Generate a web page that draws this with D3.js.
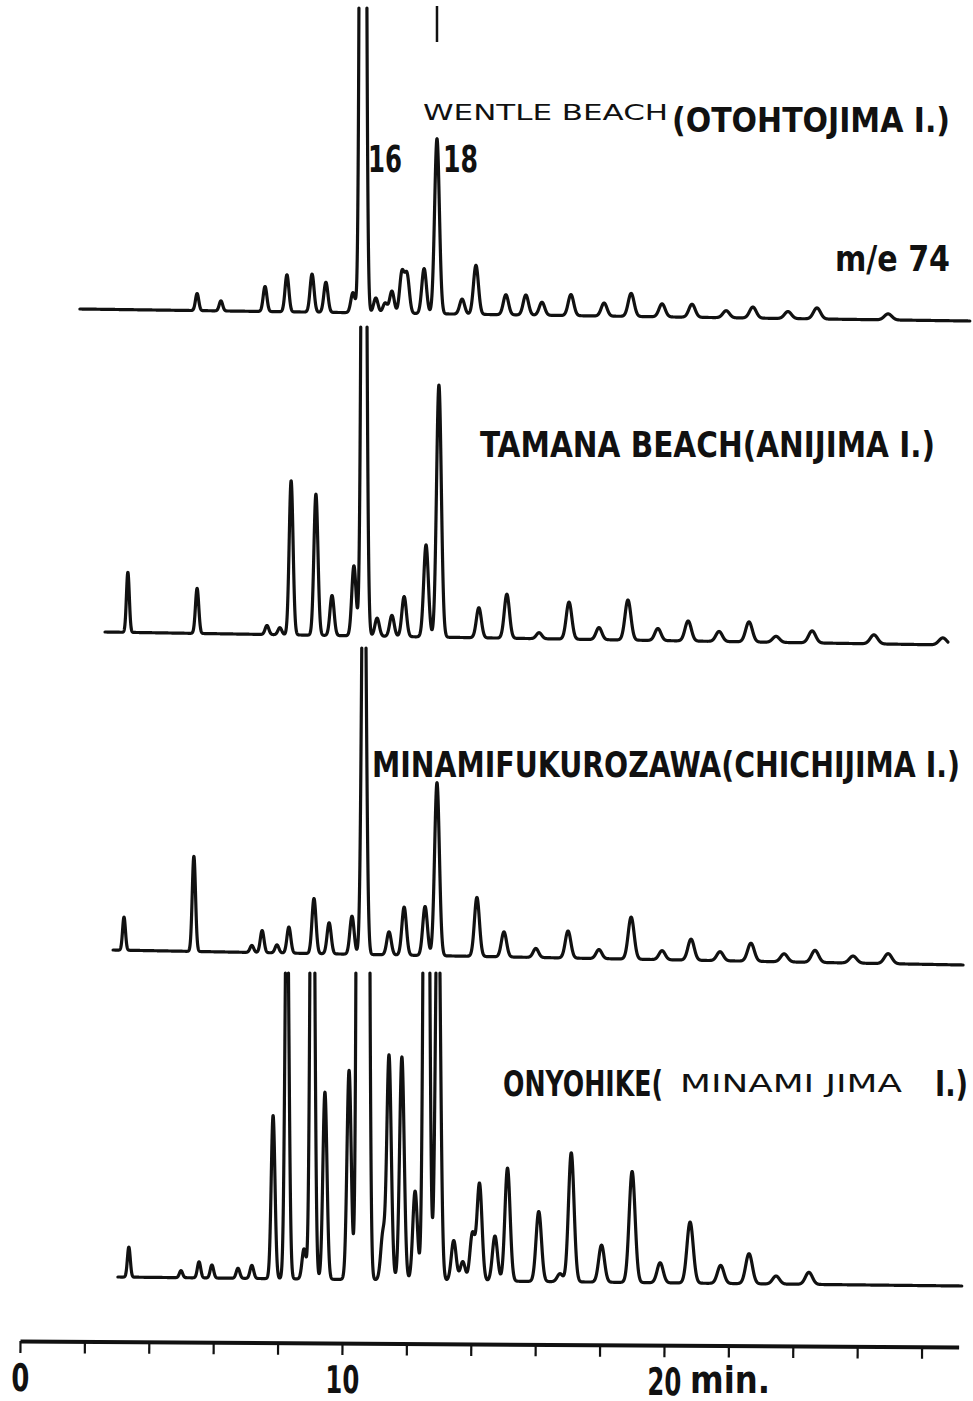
<!DOCTYPE html>
<html>
<head>
<meta charset="utf-8">
<title>m/e 74 mass chromatograms</title>
<script src="https://cdn.jsdelivr.net/npm/d3@7"></script>
<style>
  body { margin: 0; background: #fff; }
  text { font-family: "Liberation Sans Narrow", "DejaVu Sans Condensed", "Liberation Sans", sans-serif; fill: #111; }
  .thin { font-family: "DejaVu Sans", "Liberation Sans", sans-serif; font-weight: normal; }
  .lab { font-weight: bold; }
</style>
</head>
<body>
<div id="chart"></div>
<script>
// peak retention times (min) and peak heights
var wentleTimes   = [5.50, 6.24, 7.61, 8.29, 9.07, 9.50, 10.34, 10.65, 11.05, 11.34, 11.55, 11.86, 12.02, 12.55, 12.95, 13.73, 14.16, 15.09, 15.71, 16.21, 17.11, 18.14, 18.98, 19.94, 20.87, 21.93, 22.76, 23.85, 24.75, 26.96];
var wentleHeights = [17, 10, 25, 37, 38, 30, 20, 1700, 15, 10, 22, 40, 38, 45, 175, 15, 49, 20, 20, 13, 21, 13, 23, 13, 13, 7, 11, 7, 11, 6];

var tamanaTimes   = [3.35, 5.50, 7.67, 8.07, 8.42, 9.19, 9.69, 10.37, 10.68, 11.09, 11.55, 11.93, 12.61, 13.01, 14.25, 15.12, 16.12, 17.05, 17.98, 18.88, 19.81, 20.75, 21.71, 22.64, 23.48, 24.60, 26.52, 28.66];
var tamanaHeights = [60, 45, 9, 7, 154, 141, 40, 70, 900, 18, 21, 40, 92, 252, 30, 44, 6, 37, 12, 40, 12, 20, 10, 20, 6, 12, 9, 7];

var minamiTimes   = [3.23, 5.40, 7.20, 7.52, 7.98, 8.35, 9.13, 9.60, 10.31, 10.68, 11.46, 11.93, 12.58, 12.95, 14.19, 15.03, 16.02, 17.02, 17.98, 18.98, 19.94, 20.84, 21.74, 22.70, 23.73, 24.69, 25.87, 26.96];
var minamiHeights = [33, 95, 7, 22, 8, 26, 55, 31, 38, 500, 23, 48, 49, 173, 59, 25, 9, 27, 9, 42, 9, 21, 9, 18, 8, 12, 7, 10];

var onyoTimes   = [3.38, 5.00, 5.56, 5.96, 6.77, 7.20, 7.86, 8.29, 8.82, 9.08, 9.47, 10.22, 10.55, 10.75, 11.27, 11.46, 11.86, 12.27, 12.62, 12.98, 13.47, 13.75, 14.05, 14.27, 14.75, 15.14, 16.11, 16.77, 17.12, 18.06, 19.01, 19.88, 20.81, 21.76, 22.64, 23.48, 24.50];
var onyoHeights = [30, 7, 16, 13, 10, 13, 163, 420, 30, 670, 187, 209, 1500, 1500, 45, 224, 223, 89, 950, 440, 40, 19, 47, 97, 45, 113, 70, 8, 129, 37, 111, 20, 61, 18, 30, 8, 12];

var tickMinutes = [0, 2, 4, 6, 8, 10, 12, 14, 16, 18, 20, 22, 24, 26, 28];
var tickLabels  = {0: "0", 10: "10", 20: "20"};

// page layout: where each recorder trace sits (start/end time, baseline y, pen limit)
var traces = [
  {times: wentleTimes, heights: wentleHeights, t0: 1.86, t1: 29.5,  y0: 309,  y1: 321,  top: 8},
  {times: tamanaTimes, heights: tamanaHeights, t0: 2.64, t1: 28.82, y0: 632,  y1: 645,  top: 327},
  {times: minamiTimes, heights: minamiHeights, t0: 2.89, t1: 29.29, y0: 950,  y1: 965,  top: 648},
  {times: onyoTimes,   heights: onyoHeights,   t0: 3.04, t1: 29.25, y0: 1277, y1: 1286, top: 973}
];

var width = 973, height = 1401;

var svg = d3.select("#chart")
  .append("svg")
    .attr("width", width)
    .attr("height", height);

// time axis, 32.2 px per minute
var x = d3.scaleLinear()
  .domain([0, 29.15])
  .range([20, 20 + 29.15 * 32.2]);

// signal units -> pixels above the baseline
var h = d3.scaleLinear()
  .domain([0, 100])
  .range([0, 100]);

function sigma(t) { return 0.035 + 0.003 * t; }

traces.forEach(function(tr) {
  var base = d3.scaleLinear().domain([tr.t0, tr.t1]).range([tr.y0, tr.y1]);
  var raw = d3.range(tr.t0, tr.t1, 0.002).map(function(t) {
    var s = 0;
    for (var i = 0; i < tr.times.length; i++) {
      var sg = sigma(tr.times[i]);
      var d = t - tr.times[i];
      s += tr.heights[i] * Math.exp(-d * d / (2 * sg * sg));
    }
    return {t: t, y: base(t) - h(s)};
  });

  // the pen runs off the chart above tr.top: break the line exactly there
  var pts = [];
  raw.forEach(function(p, i) {
    if (i > 0) {
      var q = raw[i - 1];
      if ((q.y >= tr.top) !== (p.y >= tr.top)) {
        var f = (tr.top - q.y) / (p.y - q.y);
        pts.push({t: q.t + f * (p.t - q.t), y: tr.top});
      }
    }
    pts.push(p);
  });

  var line = d3.line()
    .defined(function(d) { return d.y >= tr.top; })
    .x(function(d) { return x(d.t); })
    .y(function(d) { return d.y; });

  svg.append("path")
    .datum(pts)
    .attr("d", line)
    .attr("fill", "none")
    .attr("stroke", "#111")
    .attr("stroke-width", 3.2)
    .attr("stroke-linejoin", "round")
    .attr("stroke-linecap", "round");
});

// marker above peak 18
svg.append("line")
  .attr("x1", x(12.95)).attr("x2", x(12.95))
  .attr("y1", 6).attr("y2", 42)
  .attr("stroke", "#111").attr("stroke-width", 2.5);

// axis
var axisG = svg.append("g")
  .attr("transform", "translate(0,1341) rotate(0.37,20,0)")
  .call(d3.axisBottom(x)
    .tickValues(tickMinutes)
    .tickSize(12)
    .tickSizeOuter(0)
    .tickFormat(function(d) { return tickLabels[d] || ""; }));

axisG.select(".domain").attr("stroke", "#111").attr("stroke-width", 4);
axisG.selectAll(".tick line").attr("stroke", "#111").attr("stroke-width", 2.2);
axisG.selectAll(".tick text")
  .attr("y", 50).attr("dy", null)
  .attr("font-size", 38)
  .attr("font-family", null)
  .attr("class", "lab")
  .attr("fill", "#111")
  .attr("textLength", function(d) { return d === 0 ? 18 : 34; })
  .attr("lengthAdjust", "spacingAndGlyphs");

svg.append("text").attr("class", "lab")
  .attr("x", 690).attr("y", 1393)
  .attr("font-size", 38)
  .attr("textLength", 80).attr("lengthAdjust", "spacingAndGlyphs")
  .text("min.");

// labels
function label(txt, lx, ly, size, len, cls) {
  svg.append("text")
    .attr("class", cls || "lab")
    .attr("x", lx).attr("y", ly)
    .attr("font-size", size)
    .attr("textLength", len).attr("lengthAdjust", "spacingAndGlyphs")
    .text(txt);
}

label("WENTLE BEACH", 423, 120, 22, 245, "thin");
label("(OTOHTOJIMA I.)", 672, 132, 34, 278);
label("16", 368, 172, 37, 34);
label("18", 443, 172, 37, 35);
label("m/e 74", 835, 271, 36, 115);
label("TAMANA BEACH(ANIJIMA I.)", 480, 457, 36, 455);
label("MINAMIFUKUROZAWA(CHICHIJIMA I.)", 372, 777, 36, 588);
label("ONYOHIKE(", 503, 1096, 36, 160);
label("MINAMI JIMA", 680, 1092, 24, 222, "thin");
label("I.)", 935, 1096, 36, 33);
</script>
</body>
</html>
